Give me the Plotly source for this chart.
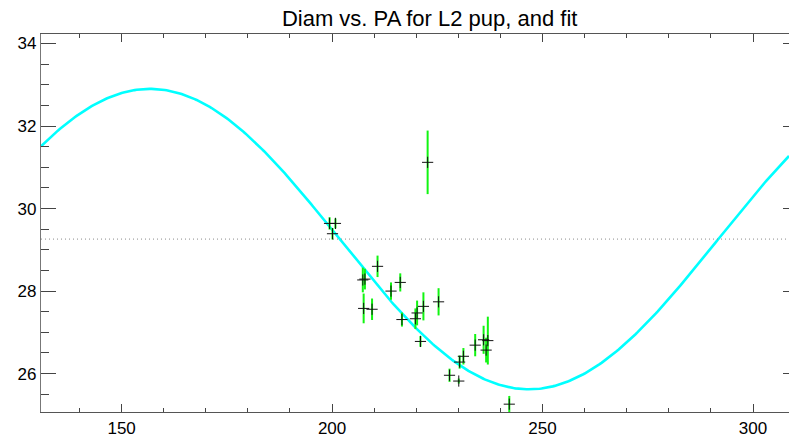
import numpy as np
import plotly.graph_objects as go

# Measured diameters vs position angle (deg), with 1-sigma errors
pa = [199.4, 200.8, 200.1, 210.8, 207.3, 207.8, 207.5, 209.5, 214.0, 216.2,
      216.6, 220.2, 219.8, 221.0, 221.7, 225.3, 222.7, 234.0, 231.2, 230.3,
      227.9, 230.1, 236.0, 237.0, 236.6, 242.1]
diam = [29.64, 29.64, 29.39, 28.60, 28.27, 28.29, 27.58, 27.56, 28.00, 28.21,
        27.31, 27.47, 27.33, 26.78, 27.63, 27.74, 31.12, 26.69, 26.42, 26.28,
        25.96, 25.82, 26.82, 26.80, 26.57, 25.26]
diam_err = [0.15, 0.12, 0.14, 0.26, 0.30, 0.25, 0.36, 0.26, 0.21, 0.22,
            0.17, 0.30, 0.25, 0.13, 0.34, 0.33, 0.77, 0.27, 0.20, 0.16,
            0.16, 0.06, 0.34, 0.58, 0.30, 0.20]

# Elliptical fit: diam = mean + amp * cos(2 * (PA - pa_max))
fit_mean = 29.26
fit_amp = 3.64
fit_pa_max = 156.75

x_range = [130.85, 308.55]
y_range = [25.07, 34.23]
x_ticks = [150, 200, 250, 300]
y_ticks = [26, 28, 30, 32, 34]

pa_grid = np.linspace(x_range[0], x_range[1], 400)
fit_curve = fit_mean + fit_amp * np.cos(np.radians(2 * (pa_grid - fit_pa_max)))

FONT = "Liberation Sans, Arial, Helvetica, sans-serif"
AX = "#444444"

fig = go.Figure()

# mean level (dotted), on the right-hand overlay axis
fig.add_trace(go.Scatter(
    x=x_range, y=[fit_mean, fit_mean], mode="lines", yaxis="y2",
    line=dict(color="#8a8a8a", width=1, dash="1px,3px"),
    hoverinfo="skip", showlegend=False))

# fitted curve
fig.add_trace(go.Scatter(
    x=pa_grid, y=fit_curve, mode="lines",
    line=dict(color="#00ffff", width=2.6),
    showlegend=False))

# measurements: green error bars with black plus markers
fig.add_trace(go.Scatter(
    x=pa, y=diam, mode="markers",
    marker=dict(symbol="cross-thin", size=8, color="black",
                line=dict(color="#111111", width=1)),
    error_y=dict(type="data", array=diam_err, visible=True,
                 color="#11f511", thickness=2, width=0),
    showlegend=False))

fig.update_layout(
    width=789, height=437,
    margin=dict(l=41, r=0, t=34, b=25),
    paper_bgcolor="white", plot_bgcolor="white",
    font=dict(family=FONT, color="black", size=17),
    title=dict(text="Diam vs. PA for L2 pup, and fit",
               x=410 / 789, xanchor="center", xref="paper",
               y=1 - 18 / 437, yanchor="middle", yref="container",
               font=dict(family=FONT, size=22, color="black")),
    xaxis=dict(range=x_range, tickvals=x_ticks, ticks="inside",
               ticklen=8, tickwidth=1, tickcolor=AX,
               minor=dict(dtick=10, ticks="inside", ticklen=4,
                          tickcolor=AX, tickwidth=1),
               showline=True, linecolor="#555555", linewidth=1.3,
               mirror="ticks", showgrid=False, zeroline=False,
               tickfont=dict(size=17)),
    yaxis=dict(range=y_range, tickvals=y_ticks, ticks="inside",
               ticklen=15, tickwidth=1, tickcolor=AX,
               minor=dict(dtick=0.5, ticks="inside", ticklen=8,
                          tickcolor=AX, tickwidth=1),
               showline=True, linecolor="#777777", linewidth=1.3,
               showgrid=False, zeroline=False,
               tickfont=dict(size=17)),
    yaxis2=dict(range=y_range, tickvals=y_ticks, overlaying="y",
                side="right", ticks="inside", ticklen=6, tickwidth=1,
                tickcolor=AX, showline=False, showticklabels=False,
                showgrid=False, zeroline=False),
)

fig.write_html("out.html")
